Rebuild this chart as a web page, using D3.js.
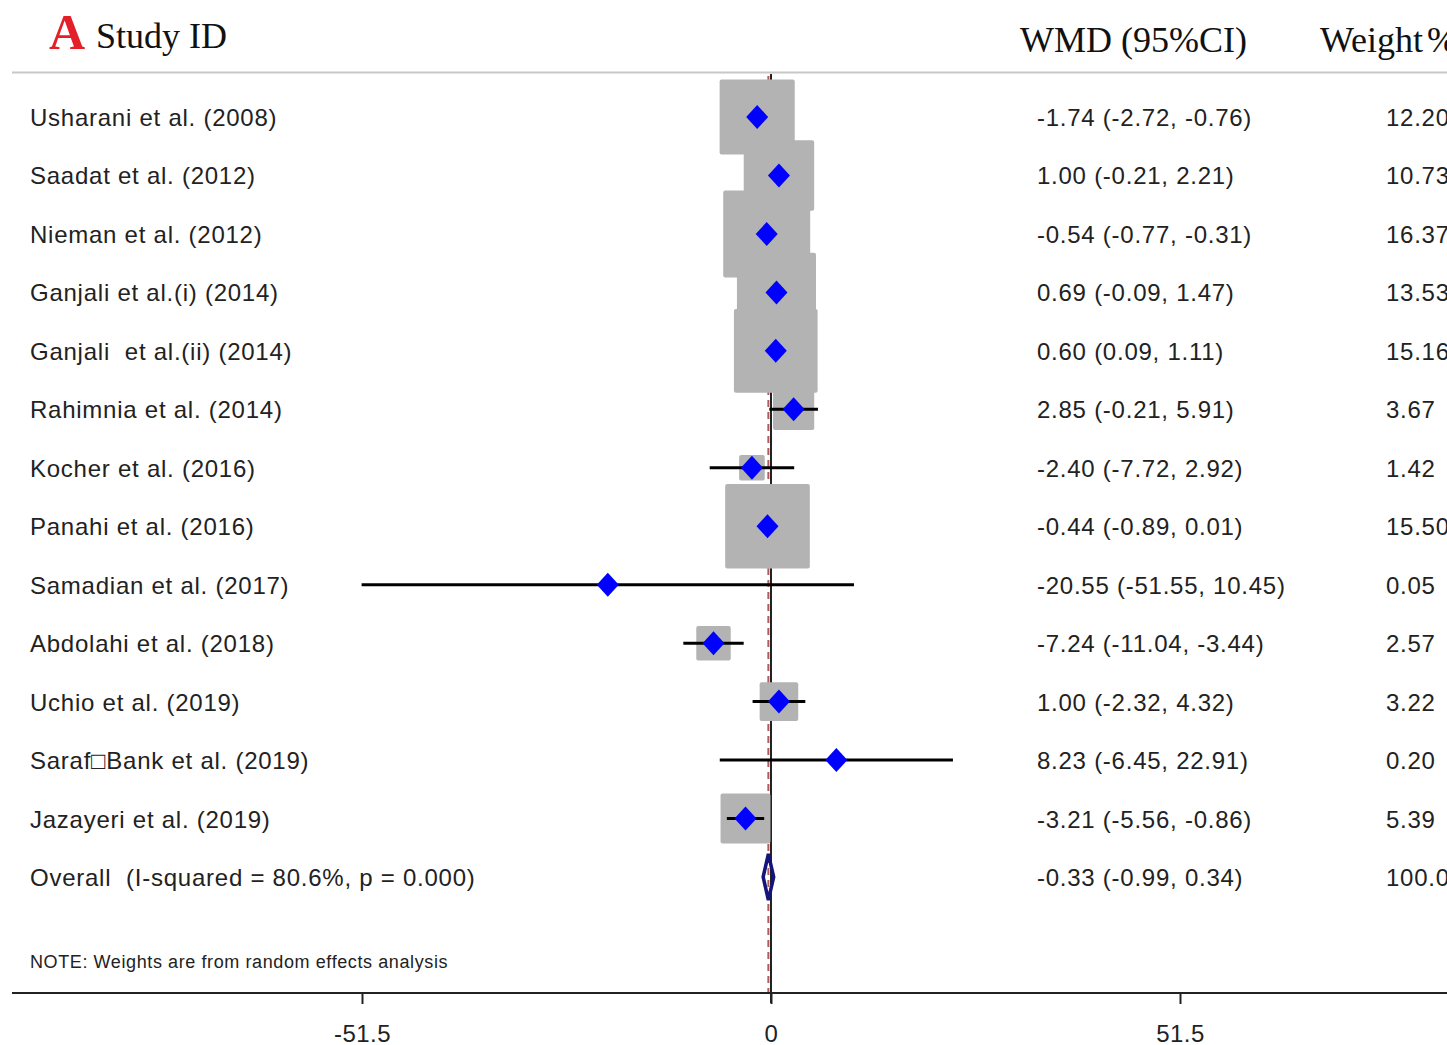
<!DOCTYPE html>
<meta charset="utf-8">
<head>
<script src="https://d3js.org/d3.v7.min.js"></script>
<style>
  body { margin: 0; background: #fff; }
  svg { display: block; }
  .lab { font-family: "Liberation Sans", Arial, sans-serif; font-size: 24px; letter-spacing: 0.75px; fill: #222; white-space: pre; }
  .hdr { font-family: "Liberation Serif", "Times New Roman", serif; font-size: 36px; fill: #111; }
</style>
</head>
<body>
<svg id="forest" width="1447" height="1045"></svg>
<script>
// study data
var studies = ["Usharani et al. (2008)", "Saadat et al. (2012)", "Nieman et al. (2012)",
  "Ganjali et al.(i) (2014)", "Ganjali  et al.(ii) (2014)", "Rahimnia et al. (2014)",
  "Kocher et al. (2016)", "Panahi et al. (2016)", "Samadian et al. (2017)",
  "Abdolahi et al. (2018)", "Uchio et al. (2019)", "Saraf\u25A1Bank et al. (2019)",
  "Jazayeri et al. (2019)"];
var est = [-1.74, 1.00, -0.54, 0.69, 0.60, 2.85, -2.40, -0.44, -20.55, -7.24, 1.00, 8.23, -3.21];
var lo  = [-2.72, -0.21, -0.77, -0.09, 0.09, -0.21, -7.72, -0.89, -51.55, -11.04, -2.32, -6.45, -5.56];
var hi  = [-0.76, 2.21, -0.31, 1.47, 1.11, 5.91, 2.92, 0.01, 10.45, -3.44, 4.32, 22.91, -0.86];
var weight = [12.20, 10.73, 16.37, 13.53, 15.16, 3.67, 1.42, 15.50, 0.05, 2.57, 3.22, 0.20, 5.39];

var overallLabel = "Overall  (I-squared = 80.6%, p = 0.000)";
var overall = { est: -0.33, lo: -0.99, hi: 0.34, weight: 100.00 };

var tickValues = [-51.5, 0, 51.5];
var note = "NOTE: Weights are from random effects analysis";

var svg = d3.select("#forest");
// plain hyphen instead of the unicode minus d3 uses
var f2 = d3.format(".2f");
var fmt = function(v) { return f2(v).replace("\u2212", "-"); };
var ciText = function(e, l, h) { return fmt(e) + " (" + fmt(l) + ", " + fmt(h) + ")"; };

var x = d3.scaleLinear().domain([-51.5, 51.5]).range([362, 1180]);
var y = d3.scalePoint().domain(d3.range(studies.length + 1)).range([117, 877]);
var side = d3.scaleSqrt().domain([0, 1]).range([0, 21.5]);

var axisY = 993;

// header
var head = svg.append("g");
head.append("text").attr("x", 49).attr("y", 49)
  .style("font-family", "'Liberation Serif', serif").style("font-weight", "bold")
  .style("font-size", "50px").attr("fill", "#e3202a").text("A");
head.append("text").attr("class", "hdr").attr("x", 96).attr("y", 48).text("Study ID");
head.append("text").attr("class", "hdr").attr("x", 1020).attr("y", 52).text("WMD (95%CI)");
head.append("text").attr("class", "hdr").attr("x", 1320).attr("y", 52)
  .text("Weight").append("tspan").attr("dx", 4).text("%");
head.append("line").attr("x1", 12).attr("x2", 1447).attr("y1", 72.5).attr("y2", 72.5)
  .attr("stroke", "#c8c8c8").attr("stroke-width", 2);

// null line and overall dashed line
svg.append("line").attr("x1", x(0)).attr("x2", x(0)).attr("y1", 74).attr("y2", axisY + 10)
  .attr("stroke", "#222").attr("stroke-width", 2);
svg.append("line").attr("x1", x(overall.est)).attr("x2", x(overall.est)).attr("y1", 76).attr("y2", axisY)
  .attr("stroke", "#b05a5e").attr("stroke-width", 2).attr("stroke-dasharray", "7,5");

var idx = d3.range(studies.length);

// weight boxes
svg.append("g").selectAll("rect").data(idx).enter().append("rect")
  .attr("x", function(i) { return x(est[i]) - side(weight[i]) / 2; })
  .attr("y", function(i) { return y(i) - side(weight[i]) / 2; })
  .attr("width", function(i) { return side(weight[i]); })
  .attr("height", function(i) { return side(weight[i]); })
  .attr("rx", 2)
  .attr("fill", "#b3b3b3");

// confidence intervals
svg.append("g").selectAll("line").data(idx).enter().append("line")
  .attr("x1", function(i) { return x(lo[i]); })
  .attr("x2", function(i) { return x(hi[i]); })
  .attr("y1", function(i) { return y(i); })
  .attr("y2", function(i) { return y(i); })
  .attr("stroke", "#000").attr("stroke-width", 3);

// point estimates
svg.append("g").selectAll("path").data(idx).enter().append("path")
  .attr("d", function(i) {
    var cx = x(est[i]), cy = y(i);
    return "M" + (cx - 11) + "," + cy + "L" + cx + "," + (cy - 12) + "L" + (cx + 11) + "," + cy + "L" + cx + "," + (cy + 12) + "Z";
  })
  .attr("fill", "#0000ff");

// overall diamond
var oy = y(studies.length);
svg.append("path")
  .attr("d", "M" + x(overall.lo) + "," + oy + "L" + x(overall.est) + "," + (oy - 23) +
    "L" + x(overall.hi) + "," + oy + "L" + x(overall.est) + "," + (oy + 23) + "Z")
  .attr("fill", "none").attr("stroke", "#14147a").attr("stroke-width", 3.5);

// text columns
var rows = svg.append("g");
rows.selectAll(".name").data(idx).enter().append("text").attr("class", "lab")
  .attr("x", 30).attr("y", function(i) { return y(i) + 9; })
  .text(function(i) { return studies[i]; });
rows.selectAll(".ci").data(idx).enter().append("text").attr("class", "lab")
  .attr("x", 1037).attr("y", function(i) { return y(i) + 9; })
  .text(function(i) { return ciText(est[i], lo[i], hi[i]); });
rows.selectAll(".wt").data(idx).enter().append("text").attr("class", "lab")
  .attr("x", 1386).attr("y", function(i) { return y(i) + 9; })
  .text(function(i) { return fmt(weight[i]); });

rows.append("text").attr("class", "lab").attr("x", 30).attr("y", oy + 9).text(overallLabel);
rows.append("text").attr("class", "lab").attr("x", 1037).attr("y", oy + 9)
  .text(ciText(overall.est, overall.lo, overall.hi));
rows.append("text").attr("class", "lab").attr("x", 1386).attr("y", oy + 9).text(fmt(overall.weight));

svg.append("text").attr("class", "lab").attr("x", 30).attr("y", 968)
  .style("font-size", "18px").style("letter-spacing", "0.6px").text(note);

// x axis
var g = svg.append("g").attr("transform", "translate(0," + axisY + ")")
  .call(d3.axisBottom(x).tickValues(tickValues).tickSize(11).tickPadding(21)
    .tickFormat(function(d) { return d === 0 ? "0" : d3.format(".1f")(d).replace("\u2212", "-"); }));
g.select(".domain").remove();
g.selectAll(".tick line").attr("stroke", "#222").attr("stroke-width", 2);
g.selectAll(".tick text").attr("class", "lab").style("letter-spacing", "0.5px")
  .attr("fill", "#222").style("font-size", "24px");
g.append("line").attr("x1", 12).attr("x2", 1447).attr("y1", 0).attr("y2", 0)
  .attr("stroke", "#222").attr("stroke-width", 2);
</script>
</body>
